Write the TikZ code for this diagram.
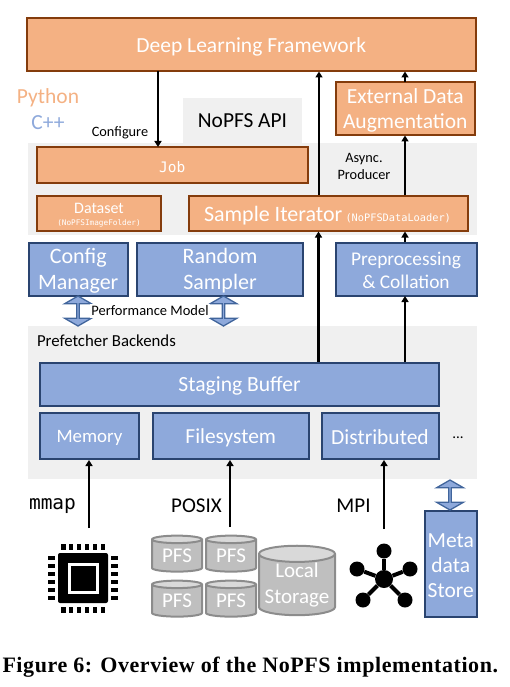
\documentclass[tikz,border=0pt]{standalone}
\usepackage{fontspec}
\setmainfont{Carlito}
\setmonofont{DejaVu Sans Mono}
\newfontfamily\capfont[LetterSpace=2.6]{Liberation Serif}
\usetikzlibrary{arrows.meta,shapes.geometric,shapes.arrows}
\definecolor{orfill}{HTML}{F4B183}
\definecolor{ordraw}{HTML}{843C0C}
\definecolor{blfill}{HTML}{8EA9DB}
\definecolor{bldraw}{HTML}{2A4470}
\definecolor{dblline}{HTML}{41659C}
\definecolor{panel}{HTML}{F0F0F0}
\definecolor{cylfill}{HTML}{BFBFBF}
\definecolor{cyldraw}{HTML}{8C8C8C}
\definecolor{cylend}{HTML}{D9D9D9}
\newcommand{\fs}[1]{\fontsize{#1}{#1}\selectfont}
\newcommand{\fsl}[2]{\fontsize{#1}{#2}\selectfont}
% \bx{name}{style}{x1}{y1}{x2}{y2}{font}{text}
\newcommand{\bx}[8]{\node[#2,minimum width={#5-#3},minimum height={#6-#4}] (#1) at ({(#3+#5)/2},{(#4+#6)/2}) {};
  \node[boxtext,font=#7] (#1-t) at ({(#3+#5)/2},{(#4+#6)/2+1.8}) {#8};}
\tikzset{
  orbox/.style={draw=ordraw,fill=orfill,line width=2pt,inner sep=0pt,outer sep=0pt},
  blbox/.style={draw=bldraw,fill=blfill,line width=2pt,inner sep=0pt,outer sep=0pt},
  boxtext/.style={text=white,inner sep=0pt,outer sep=0pt,align=center},
  panelbox/.style={fill=panel,draw=none,inner sep=0pt,outer sep=0pt},
  flow/.style={line width=2.4pt,-{Triangle[width=7pt,length=6pt]}},
  dbl/.style={double arrow,draw=dblline,fill=blfill,line width=1.3pt,rotate=90,minimum height=30pt,minimum width=27pt,double arrow head extend=6.5pt,double arrow tip angle=120,inner sep=0pt,outer sep=0pt},
  cyl/.style={cylinder,shape border rotate=90,aspect=0.25,draw=cyldraw,line width=2pt,cylinder uses custom fill,cylinder body fill=cylfill,cylinder end fill=cylend,text=white,inner sep=0pt,outer sep=0pt,align=center,font=\fsl{21}{26}},
  lbl/.style={inner sep=0pt,outer sep=0pt,text=black,align=center},
  pin/.style={fill=black,draw=none,inner sep=0pt,outer sep=0pt},
  dot/.style={circle,fill=black,draw=none,inner sep=0pt,minimum size=15pt},
  spoke/.style={line width=4pt,black},
}
\begin{document}
\begin{tikzpicture}[x=1pt,y=-1pt]
\useasboundingbox (0,0) rectangle (510,687);
% panels
\bx{apipanel}{panelbox}{183}{98}{302}{143}{\fs{10}}{}
\bx{toppanel}{panelbox}{28}{143}{477}{235}{\fs{10}}{}
\bx{botpanel}{panelbox}{28}{326}{477}{479}{\fs{10}}{}
% orange boxes
\bx{dlf}{orbox}{26.5}{18.5}{476}{71}{\fs{21.5}}{Deep Learning Framework}
\bx{ext}{orbox}{336}{82.5}{474.5}{135}{\fsl{21.5}{25}}{External Data\\Augmentation}
\bx{job}{orbox}{37}{147.5}{307.5}{183}{\ttfamily\fs{14.5}}{Job}
\bx{dataset}{orbox}{37}{195.5}{161}{231}{\fs{10}}{}
\node[lbl,text=white,font=\fs{16}] (datasettxt) at (99,208) {Dataset};
\node[lbl,text=white,font=\ttfamily\fs{7.7}] (datasetsub) at (99,223.5) {(NoPFSImageFolder)};
\bx{iter}{orbox}{188.5}{195.5}{468}{231}{\fs{10}}{}
\node[lbl,text=white,anchor=base west,font=\fs{22}] (itertxt) at (204,221) {Sample Iterator};
\node[lbl,text=white,anchor=base west,font=\ttfamily\fs{10.3}] (itersub) at (345.5,221) {(NoPFSDataLoader)};
% blue boxes
\bx{cfg}{blbox}{28.5}{242.5}{128}{295.5}{\fsl{22}{26}}{Config\\Manager}
\bx{rnd}{blbox}{137}{242.5}{303}{295.5}{\fsl{22}{26}}{Random\\Sampler}
\bx{pre}{blbox}{335.5}{242.5}{476.5}{295.5}{\fsl{19.4}{23}}{Preprocessing\\\& Collation}
\bx{stg}{blbox}{40}{362.5}{439}{405.5}{\fs{21.6}}{Staging Buffer}
\bx{mem}{blbox}{40}{412.5}{139}{459}{\fs{18.9}}{Memory}
\bx{fsy}{blbox}{153}{412.5}{308.5}{459}{\fs{21.4}}{Filesystem}
\bx{dist}{blbox}{321.5}{412.5}{438.5}{459}{\fs{21.5}}{Distributed}
\bx{meta}{blbox}{425}{511}{476.5}{616.5}{\fsl{21.5}{25}}{Meta\\data\\Store}
% labels
\node[lbl,text=orfill,font=\fs{21.5}] (py) at (48,97.5) {Python};
\node[lbl,text=blfill,font=\fs{21.5}] (cpp) at (48,123) {C++};
\node[lbl,font=\fs{14.3}] (conf) at (120,133) {Configure};
\node[lbl,font=\fs{21.4}] (api) at (242.5,121) {NoPFS API};
\node[lbl,font=\fsl{14.3}{17.5}] (async) at (364,166.5) {Async.\\Producer};
\node[lbl,font=\fs{16.8},anchor=west] (back) at (37,341) {Prefetcher Backends};
\node[lbl,font=\fs{15}] (dots) at (458,438) {...};
\node[lbl,font=\ttfamily\fs{19.5}] (mmap) at (52.5,506) {mmap};
\node[lbl,font=\fs{21}] (posix) at (196.5,506) {POSIX};
\node[lbl,font=\fs{21}] (mpi) at (353.5,506) {MPI};
% flows
\coordinate (dlfa) at (158,71);
\coordinate (joba) at (158,147);
\draw[flow] (dlfa) -- (joba);
\coordinate (a1) at (319,195); \coordinate (a2) at (319,71.5);
\draw[flow] (a1) -- (a2);
\coordinate (b1) at (405,195); \coordinate (b2) at (405,135.5);
\draw[flow] (b1) -- (b2);
\coordinate (c1) at (405,82); \coordinate (c2) at (405,71.5);
\draw[flow] (c1) -- (c2);
\coordinate (d1) at (318.5,362); \coordinate (d2) at (318.5,231.5);
\draw[flow] (d1) -- (d2);
\coordinate (e1) at (405,362); \coordinate (e2) at (405,296);
\draw[flow] (e1) -- (e2);
\coordinate (f1) at (405,242); \coordinate (f2) at (405,231.5);
\draw[flow] (f1) -- (f2);
\coordinate (g1) at (89,528); \coordinate (g2) at (89,460);
\draw[flow] (g1) -- (g2);
\coordinate (h1) at (230,527); \coordinate (h2) at (230,460);
\draw[flow] (h1) -- (h2);
\coordinate (i1) at (384,529); \coordinate (i2) at (384,460);
\draw[flow] (i1) -- (i2);
% double arrows
\node[dbl] (da1) at (78,311) {};
\node[dbl] (da2) at (223.5,311) {};
\node[dbl] (da3) at (450,495) {};
\node[lbl,fill=white,inner xsep=1pt,inner ysep=2pt,font=\fs{14.5}] (perf) at (150,311) {Performance Model};
% CPU
\node[pin,rounded corners=2pt,minimum width=50pt,minimum height=50pt] (cpu) at (83,578) {};
\node[draw=white,line width=3pt,fill=black,minimum width=28pt,minimum height=28pt,inner sep=0pt] (cpuin) at (cpu.center) {};
\foreach \k in {-2.5,-1.5,-0.5,0.5,1.5,2.5}{
  \node[pin,minimum width=4.5pt,minimum height=6pt] at ({83+\k*7.9},546.5) {};
  \node[pin,minimum width=4.5pt,minimum height=6pt] at ({83+\k*7.9},609.5) {};
  \node[pin,minimum width=6.5pt,minimum height=4pt] at (51.5,{578+\k*7.9}) {};
  \node[pin,minimum width=6.5pt,minimum height=4pt] at (114.5,{578+\k*7.9}) {};
}
% storage
\node[cyl,minimum width=50pt,minimum height=36pt] (p1) at (177,556) {PFS};
\node[cyl,minimum width=50pt,minimum height=36pt] (p2) at (231,556) {PFS};
\node[cyl,minimum width=50pt,minimum height=36pt] (p3) at (177,601) {PFS};
\node[cyl,minimum width=50pt,minimum height=36pt] (p4) at (231,601) {PFS};
\node[cyl,minimum width=76pt,minimum height=63pt] (loc) at (297,585) {Local\\Storage};
% network
\node[dot,minimum size=18pt] (hub) at (384,579) {};
\node[dot] (s1) at (384,551) {};
\node[dot] (s2) at (357,569) {};
\node[dot] (s3) at (410,569) {};
\node[dot] (s4) at (363,600) {};
\node[dot] (s5) at (405,600) {};
\foreach \s in {s1,s2,s3,s4,s5}{\draw[spoke] (hub) -- (\s);}
% caption
\node[lbl,anchor=base west,font=\capfont\bfseries\fs{22}] (cap) at (2.5,672) {Figure 6: Overview of the NoPFS implementation.};
\end{tikzpicture}
\end{document}
